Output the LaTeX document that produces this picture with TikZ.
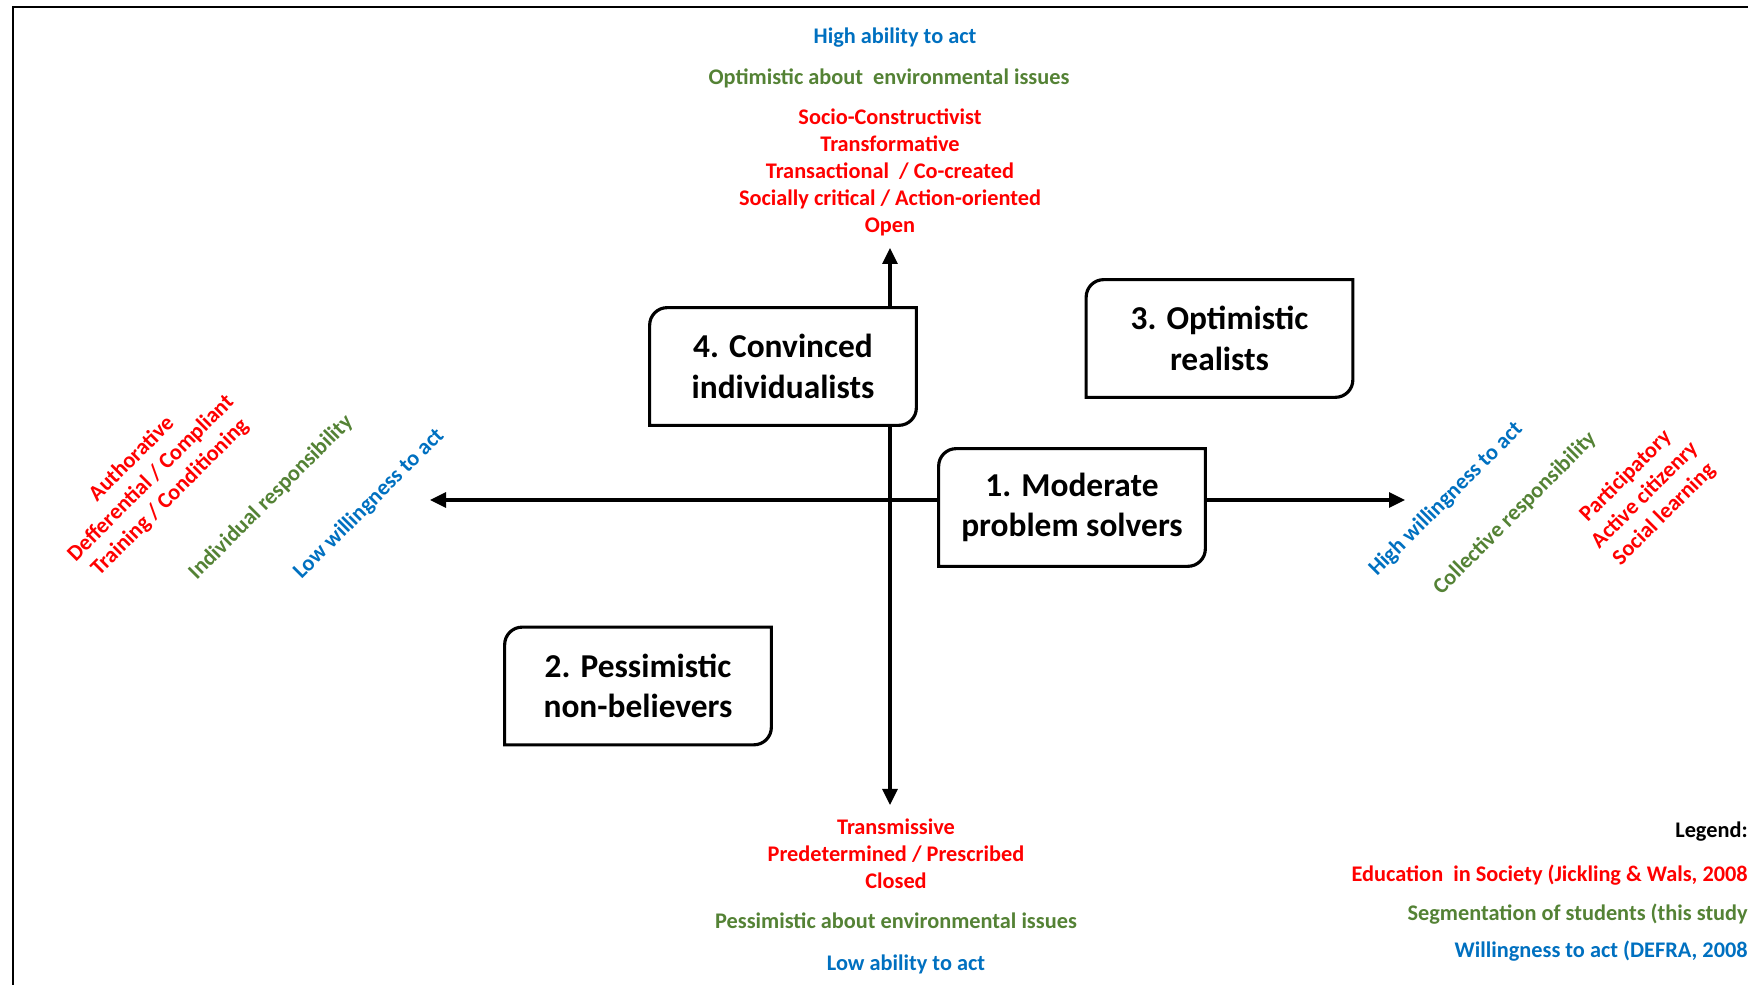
\documentclass[tikz,border=0pt]{standalone}
\usepackage{fontspec}
\setmainfont{Carlito}
\usetikzlibrary{arrows.meta}
\definecolor{segred}{RGB}{255,0,0}
\definecolor{seggreen}{RGB}{84,130,53}
\definecolor{segblue}{RGB}{0,112,192}
% frame with two rounded corners (top left, bottom right)
\newcommand{\segframe}[1]{%
  \draw[line width=1.8pt] (#1.south west) -- ([yshift=-0.35cm]#1.north west)
    arc[start angle=180,end angle=90,radius=0.35cm] -- (#1.north east)
    -- ([yshift=0.35cm]#1.south east) arc[start angle=0,end angle=-90,radius=0.35cm] -- cycle;}
\begin{document}
\begin{tikzpicture}[
    lbl/.style={font=\bfseries\fontsize{12.7}{15.4}\selectfont, align=center, inner sep=0pt},
    seg/.style={fill=white, minimum width=5.32cm, minimum height=2.34cm, align=center,
      inner sep=0pt, font=\bfseries\fontsize{19}{23}\selectfont},
    axis/.style={line width=1.8pt, -{Triangle[length=0.32cm,width=0.3cm]}}]
  \useasboundingbox (0,0) rectangle (34.96,19.70);
  \draw[line width=1.2pt] (0.26,-1) -- (0.26,19.56) -- (36,19.56);

  % axes
  \coordinate (O) at (17.80,9.70);
  \coordinate (N) at (17.80,14.74);
  \coordinate (S) at (17.80,3.60);
  \coordinate (W) at (8.60,9.70);
  \coordinate (E) at (28.10,9.70);
  \draw[axis] (O) -- (N);
  \draw[axis] (O) -- (S);
  \draw[axis] (O) -- (W);
  \draw[axis] (O) -- (E);

  % segments
  \node[seg] (moderate) at (21.44,9.55) {1. Moderate\\problem solvers};
  \node[seg] (pessim) at (12.76,5.98) {2. Pessimistic\\non-believers};
  \node[seg] (realists) at (24.39,12.93) {3. Optimistic\\realists};
  \node[seg] (convinced) at (15.66,12.37) {4. Convinced\\individualists};
  \segframe{moderate}
  \segframe{pessim}
  \segframe{realists}
  \segframe{convinced}

  % top
  \node[lbl, segblue] (hiability) at (17.90,18.95) {High ability to act};
  \node[lbl, seggreen] (optimistic) at (17.78,18.14) {Optimistic about\ \ environmental issues};
  \node[lbl, segred] (open) at (17.80,16.25) {Socio-Constructivist\\Transformative\\Transactional\ \ / Co-created\\Socially critical / Action-oriented\\Open};

  % bottom
  \node[lbl, segred] (closed) at (17.92,2.63) {Transmissive\\Predetermined / Prescribed\\Closed};
  \node[lbl, seggreen] (pessimistic) at (17.92,1.29) {Pessimistic about environmental issues};
  \node[lbl, segblue] (loability) at (18.12,0.42) {Low ability to act};

  % left
  \node[lbl, segred, rotate=45] (authorative) at (3.02,10.13) {Authorative\\Defferential / Compliant\\Training / Conditioning};
  \node[lbl, seggreen, rotate=45] (individual) at (5.42,9.75) {Individual responsibility};
  \node[lbl, segblue, rotate=45] (lowwill) at (7.38,9.62) {Low willingness to act};

  % right
  \node[lbl, segblue, rotate=45] (highwill) at (28.92,9.71) {High willingness to act};
  \node[lbl, seggreen, rotate=45] (collective) at (30.30,9.43) {Collective responsibility};
  \node[lbl, segred, rotate=45] (participatory) at (32.90,9.79) {Participatory\\Active citizenry\\Social learning};

  % legend
  \node[lbl, anchor=east] (legend) at (34.96,3.06) {Legend:};
  \node[lbl, segred, anchor=east] (legred) at (34.96,2.20) {Education\ \ in Society (Jickling \& Wals, 2008};
  \node[lbl, seggreen, anchor=east] (leggreen) at (34.96,1.42) {Segmentation of students (this study};
  \node[lbl, segblue, anchor=east] (legblue) at (34.96,0.68) {Willingness to act (DEFRA, 2008};
\end{tikzpicture}
\end{document}
